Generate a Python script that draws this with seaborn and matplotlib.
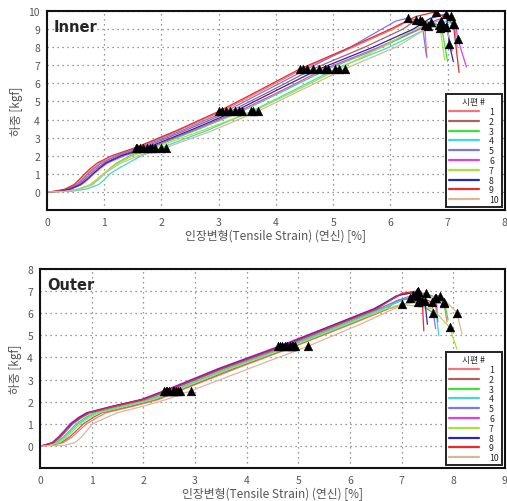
import pandas as pd
import matplotlib
matplotlib.use("Agg")
import matplotlib.pyplot as plt
import seaborn as sns

# specimen labels and colours (legend order)
specimens = [str(i) for i in range(1, 11)]
spec_colors = ['#f07878', '#b06060', '#40e040', '#40d8d8', '#7878f0',
               '#e040e0', '#a8e040', '#2828b8', '#f02828', '#d8b898']

# ---- Inner: strain [%] at which each specimen reaches these loads [kgf]
inner_load_grid = [0, 0.03, 0.15, 0.4, 0.7, 1.0, 1.3, 1.6, 2.0,
                   2.45, 3.4, 4.45, 5.6, 6.8, 8.0, 9.0]
inner_mark_levels = [2.45, 4.45, 6.8]
inner_rise = [
    [0, 0.15, 0.33, 0.50, 0.61, 0.70, 0.80, 0.93, 1.20, 1.58, 2.30, 3.05, 3.75, 4.47, 5.35, 6.05],
    [0, 0.18, 0.37, 0.55, 0.66, 0.76, 0.87, 1.00, 1.27, 1.68, 2.42, 3.20, 3.92, 4.65, 5.55, 6.22],
    [0, 0.27, 0.55, 0.78, 0.90, 1.00, 1.10, 1.22, 1.45, 1.83, 2.60, 3.40, 4.15, 4.91, 5.85, 6.52],
    [0, 0.42, 0.68, 0.90, 1.01, 1.10, 1.25, 1.42, 1.65, 2.00, 2.80, 3.57, 4.30, 5.04, 5.98, 6.62],
    [0, 0.15, 0.35, 0.52, 0.63, 0.72, 0.83, 0.95, 1.22, 1.62, 2.36, 3.12, 3.82, 4.55, 5.30, 5.85],
    [0, 0.23, 0.42, 0.60, 0.72, 0.82, 0.93, 1.06, 1.35, 1.80, 2.55, 3.35, 4.10, 4.85, 5.80, 6.50],
    [0, 0.30, 0.55, 0.75, 0.87, 0.98, 1.11, 1.25, 1.50, 1.88, 2.72, 3.60, 4.35, 5.10, 5.85, 6.42],
    [0, 0.20, 0.40, 0.58, 0.70, 0.80, 0.91, 1.03, 1.30, 1.75, 2.50, 3.28, 4.00, 4.76, 5.70, 6.40],
    [0, 0.13, 0.31, 0.47, 0.57, 0.66, 0.76, 0.88, 1.13, 1.55, 2.27, 3.00, 3.70, 4.42, 5.30, 6.00],
    [0, 0.32, 0.58, 0.80, 0.91, 1.00, 1.14, 1.30, 1.60, 2.08, 2.90, 3.68, 4.42, 5.20, 6.10, 6.62],
]
# peak region: (strain, load) ... last point = end of drop, one before = break
inner_top_strain = [
    [6.25, 6.45, 6.60, 6.64],
    [6.40, 6.51, 6.98, 7.08],
    [6.60, 6.71, 6.89, 7.00],
    [6.78, 6.88, 7.12, 7.17],
    [6.10, 6.30, 6.55, 6.63],
    [6.80, 7.06, 7.14, 7.18, 7.33],
    [6.55, 6.65, 6.87, 6.95],
    [6.70, 6.98, 7.03, 7.10],
    [6.45, 6.80, 7.10, 7.20],
    [6.72, 6.85, 6.98, 7.03],
]
inner_top_load = [
    [9.35, 9.50, 9.20, 7.40],
    [9.40, 9.52, 9.09, 7.80],
    [9.30, 9.37, 9.20, 7.20],
    [9.40, 9.46, 9.28, 8.00],
    [9.45, 9.60, 9.45, 7.50],
    [9.50, 9.70, 9.30, 8.44, 6.90],
    [9.12, 9.18, 9.04, 7.30],
    [9.60, 9.83, 8.17, 7.20],
    [9.70, 9.96, 9.30, 6.60],
    [9.10, 9.20, 9.09, 8.50],
]

# ---- Outer
outer_load_grid = [0, 0.03, 0.15, 0.4, 0.7, 1.0, 1.3, 1.5, 1.8, 2.1,
                   2.5, 3.5, 4.5, 5.5, 6.2]
outer_mark_levels = [2.5, 4.5]
outer_rise = [
    [0, 0.22, 0.45, 0.62, 0.76, 0.90, 1.12, 1.28, 1.82, 2.30, 2.71, 3.80, 4.93, 6.02, 6.75],
    [0, 0.19, 0.41, 0.57, 0.71, 0.84, 1.04, 1.20, 1.75, 2.25, 2.68, 3.75, 4.90, 5.98, 6.72],
    [0, 0.12, 0.31, 0.45, 0.58, 0.70, 0.89, 1.05, 1.58, 2.12, 2.57, 3.63, 4.79, 5.86, 6.60],
    [0, 0.14, 0.34, 0.48, 0.61, 0.74, 0.93, 1.10, 1.63, 2.16, 2.60, 3.66, 4.83, 5.90, 6.64],
    [0, 0.10, 0.27, 0.40, 0.52, 0.64, 0.82, 0.98, 1.50, 2.05, 2.50, 3.56, 4.74, 5.80, 6.55],
    [0, 0.07, 0.23, 0.35, 0.47, 0.58, 0.75, 0.90, 1.40, 1.95, 2.40, 3.45, 4.61, 5.70, 6.45],
    [0, 0.16, 0.38, 0.52, 0.65, 0.78, 0.97, 1.14, 1.68, 2.20, 2.63, 3.70, 4.87, 5.95, 6.70],
    [0, 0.08, 0.25, 0.37, 0.49, 0.60, 0.77, 0.92, 1.42, 1.98, 2.43, 3.48, 4.65, 5.72, 6.48],
    [0, 0.09, 0.26, 0.38, 0.50, 0.62, 0.80, 0.95, 1.45, 2.00, 2.46, 3.52, 4.69, 5.76, 6.52],
    [0, 0.48, 0.68, 0.80, 0.91, 1.02, 1.30, 1.50, 2.00, 2.45, 2.93, 4.05, 5.18, 6.20, 6.85],
]
outer_top_strain = [
    [7.05, 7.32, 7.82, 7.88],
    [6.89, 7.22, 7.58, 7.62],
    [7.20, 7.48, 7.83, 7.90],
    [7.10, 7.32, 7.64, 7.72],
    [6.95, 7.16, 7.61, 7.66],
    [7.00, 7.32, 7.67, 7.70],
    [7.00, 7.60, 7.93, 8.07],
    [6.90, 7.30, 7.45, 7.50],
    [7.00, 7.32, 7.40, 7.43],
    [7.40, 7.75, 8.07, 8.17],
]
outer_top_load = [
    [6.42, 6.52, 6.45, 5.60],
    [6.55, 6.82, 6.52, 5.90],
    [6.75, 6.91, 6.49, 5.70],
    [6.70, 6.80, 6.67, 4.98],
    [6.60, 6.67, 6.03, 5.30],
    [6.85, 6.97, 6.71, 5.60],
    [6.41, 6.20, 5.36, 4.38],
    [6.79, 6.97, 6.55, 5.50],
    [6.90, 7.01, 6.55, 5.20],
    [6.70, 6.80, 6.03, 5.05],
]


def build(rise, grid, top_s, top_l, levels):
    rows, marks = [], []
    for k, spec in enumerate(specimens):
        s_all = list(rise[k]) + list(top_s[k])
        l_all = list(grid) + list(top_l[k])
        for i, (s, l) in enumerate(zip(s_all, l_all)):
            rows.append({'specimen': spec, 'order': i, 'strain': s, 'load': l})
        for lv in levels:
            marks.append((rise[k][grid.index(lv)], lv))
        ip = top_l[k].index(max(top_l[k]))
        marks.append((top_s[k][ip], top_l[k][ip]))
        marks.append((top_s[k][-2], top_l[k][-2]))
    curves = pd.DataFrame(rows)
    pts = pd.DataFrame(marks, columns=['strain', 'load'])
    return curves, pts


sns.set_style("white")
plt.rcParams['font.family'] = ['Noto Sans CJK KR', 'DejaVu Sans']

fig = plt.figure(figsize=(5.07, 5.02), dpi=100)
ax1 = fig.add_axes([0.0927, 0.5797, 0.903, 0.3964])
ax2 = fig.add_axes([0.0789, 0.0657, 0.917, 0.3964])

panels = [
    (ax1, 'Inner', inner_rise, inner_load_grid, inner_top_strain, inner_top_load,
     inner_mark_levels, 8, 10),
    (ax2, 'Outer', outer_rise, outer_load_grid, outer_top_strain, outer_top_load,
     outer_mark_levels, 9, 8),
]

for ax, name, rise, grid, ts, tl, levels, xmax, ymax in panels:
    curves, pts = build(rise, grid, ts, tl, levels)
    sns.lineplot(data=curves, x='strain', y='load', hue='specimen',
                 hue_order=specimens, palette=spec_colors, sort=False,
                 estimator=None, linewidth=0.9, ax=ax)
    sns.scatterplot(data=pts, x='strain', y='load', marker='^', color='black',
                    s=40, edgecolor='black', linewidth=0.3, zorder=5, ax=ax)

    ax.set_xlim(0, xmax)
    ax.set_ylim(-1, ymax)
    ax.set_xticks(range(0, xmax + 1))
    ax.set_yticks(range(-1, ymax + 1))
    ax.set_yticklabels([''] + [str(v) for v in range(0, ymax + 1)])
    ax.set_xticks([x + 0.5 for x in range(0, xmax)], minor=True)
    ax.set_yticks([y + 0.5 for y in range(-1, ymax)], minor=True)
    ax.tick_params(which='major', direction='inout', length=6, width=1.2,
                   labelsize=7.5, labelcolor='#555555', pad=2)
    ax.tick_params(which='minor', direction='inout', length=4, width=1.0)
    ax.grid(True, which='major', linestyle=(0, (1, 3)), color='#777777',
            linewidth=0.9)
    for sp in ax.spines.values():
        sp.set_linewidth(1.5)
        sp.set_color('#111111')

    ax.set_xlabel('인장변형(Tensile Strain) (연신) [%]', fontsize=8.5,
                  color='#555555', labelpad=1)
    ax.set_ylabel('하중 [kgf]', fontsize=8.5, color='#555555', labelpad=4)
    ax.text(0.015, 0.92, name, transform=ax.transAxes, fontsize=10.5,
            fontweight='bold', va='center', ha='left',
            family=['DejaVu Sans'])

    handles, labels = ax.get_legend_handles_labels()
    handles = handles[:10]
    for h in handles:
        h.set_linewidth(1.6)
    leg = ax.legend(handles, specimens, title='시편 #', loc='lower right',
                    bbox_to_anchor=(0.997, 0.005), fontsize=6.3,
                    title_fontsize=6.3, labelspacing=0.09, handlelength=3.4,
                    handletextpad=1.2, borderpad=0.35, fancybox=False,
                    framealpha=1, edgecolor='#222222', borderaxespad=0.2)
    leg.get_frame().set_linewidth(1.4)

fig.savefig('out.png', dpi=100)
